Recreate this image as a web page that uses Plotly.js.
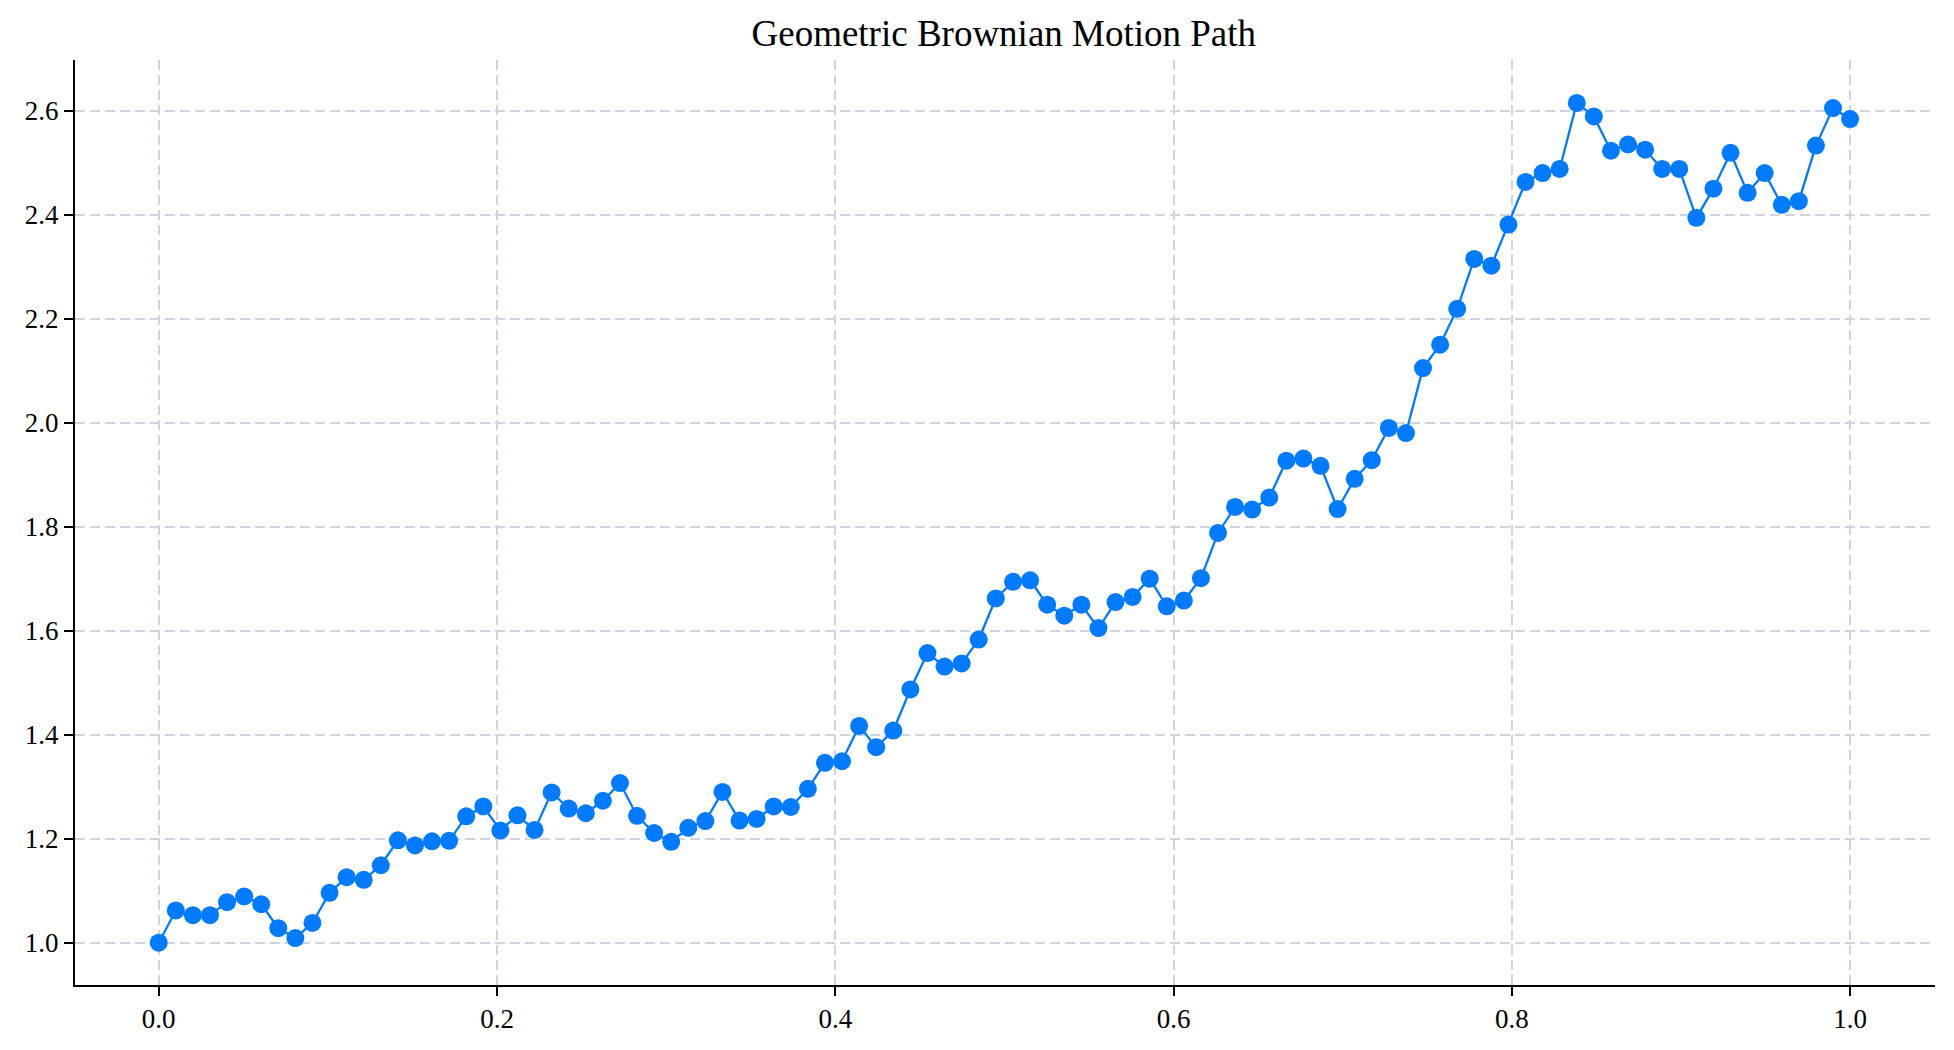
<!DOCTYPE html>
<html>
<head>
<meta charset="utf-8">
<script src="https://cdn.plot.ly/plotly-3.0.1.min.js"></script>
<style>
  html, body { margin: 0; padding: 0; background: #ffffff; }
  #chart { width: 1954px; height: 1050px; }
</style>
</head>
<body>
<div id="chart"></div>
<script>
// Time grid: 100 steps from 0 to 1 (linspace)
const timeSteps = [
  0.0000, 0.0101, 0.0202, 0.0303, 0.0404, 0.0505, 0.0606, 0.0707, 0.0808, 0.0909,
  0.1010, 0.1111, 0.1212, 0.1313, 0.1414, 0.1515, 0.1616, 0.1717, 0.1818, 0.1919,
  0.2020, 0.2121, 0.2222, 0.2323, 0.2424, 0.2525, 0.2626, 0.2727, 0.2828, 0.2929,
  0.3030, 0.3131, 0.3232, 0.3333, 0.3434, 0.3535, 0.3636, 0.3737, 0.3838, 0.3939,
  0.4040, 0.4141, 0.4242, 0.4343, 0.4444, 0.4545, 0.4646, 0.4747, 0.4848, 0.4949,
  0.5051, 0.5152, 0.5253, 0.5354, 0.5455, 0.5556, 0.5657, 0.5758, 0.5859, 0.5960,
  0.6061, 0.6162, 0.6263, 0.6364, 0.6465, 0.6566, 0.6667, 0.6768, 0.6869, 0.6970,
  0.7071, 0.7172, 0.7273, 0.7374, 0.7475, 0.7576, 0.7677, 0.7778, 0.7879, 0.7980,
  0.8081, 0.8182, 0.8283, 0.8384, 0.8485, 0.8586, 0.8687, 0.8788, 0.8889, 0.8990,
  0.9091, 0.9192, 0.9293, 0.9394, 0.9495, 0.9596, 0.9697, 0.9798, 0.9899, 1.0000
];

// Simulated GBM path values
const pathValues = [
  1.000, 1.062, 1.053, 1.053, 1.078, 1.089, 1.074, 1.028, 1.009, 1.038,
  1.096, 1.126, 1.121, 1.149, 1.197, 1.187, 1.195, 1.196, 1.243, 1.262,
  1.216, 1.245, 1.217, 1.289, 1.258, 1.249, 1.273, 1.307, 1.244, 1.211,
  1.194, 1.221, 1.234, 1.290, 1.235, 1.238, 1.262, 1.261, 1.296, 1.346,
  1.349, 1.417, 1.376, 1.408, 1.487, 1.557, 1.531, 1.537, 1.583, 1.662,
  1.694, 1.697, 1.650, 1.629, 1.650, 1.605, 1.655, 1.665, 1.700, 1.647,
  1.658, 1.701, 1.788, 1.838, 1.833, 1.856, 1.927, 1.931, 1.917, 1.834,
  1.892, 1.928, 1.990, 1.980, 2.105, 2.150, 2.219, 2.315, 2.302, 2.381,
  2.463, 2.480, 2.488, 2.615, 2.589, 2.523, 2.535, 2.525, 2.488, 2.488,
  2.394, 2.450, 2.519, 2.442, 2.480, 2.419, 2.426, 2.533, 2.605, 2.584
];

const xTickVals = [0.0, 0.2, 0.4, 0.6, 0.8, 1.0];
const xTickText = ["0.0", "0.2", "0.4", "0.6", "0.8", "1.0"];
const yTickVals = [1.0, 1.2, 1.4, 1.6, 1.8, 2.0, 2.2, 2.4, 2.6];
const yTickText = ["1.0", "1.2", "1.4", "1.6", "1.8", "2.0", "2.2", "2.4", "2.6"];

const chartTitle = "Geometric Brownian Motion Path";

const serif = "'Liberation Serif', 'DejaVu Serif', serif";
const lineColor = "#007bff";
const gridColor = "#d0d4de";

const trace = {
  x: timeSteps,
  y: pathValues,
  type: "scatter",
  mode: "lines+markers",
  line: { color: lineColor, width: 2.3 },
  marker: { color: lineColor, size: 18, line: { width: 0 } },
  hoverinfo: "x+y",
  showlegend: false
};

const commonAxis = {
  showline: true,
  linecolor: "#000000",
  linewidth: 2,
  mirror: false,
  ticks: "outside",
  ticklen: 9,
  tickwidth: 2,
  tickcolor: "#000000",
  showgrid: true,
  gridcolor: gridColor,
  gridwidth: 1.6,
  griddash: "10px,5px",
  zeroline: false,
  tickfont: { family: serif, size: 27, color: "#000000" }
};

const layout = {
  width: 1954,
  height: 1050,
  paper_bgcolor: "#ffffff",
  plot_bgcolor: "#ffffff",
  margin: { l: 75, r: 19, t: 60, b: 65, pad: 0 },
  title: {
    text: chartTitle,
    font: { family: serif, size: 37, color: "#000000" },
    x: 0.5137,
    xanchor: "center",
    xref: "container",
    y: 1 - 33 / 1050,
    yanchor: "middle",
    yref: "container"
  },
  xaxis: Object.assign({}, commonAxis, {
    range: [-0.0495, 1.0502],
    tickmode: "array",
    tickvals: xTickVals,
    ticktext: xTickText
  }),
  yaxis: Object.assign({}, commonAxis, {
    range: [0.9187, 2.6975],
    tickmode: "array",
    tickvals: yTickVals,
    ticktext: yTickText
  }),
  hovermode: "closest"
};

Plotly.newPlot("chart", [trace], layout, { displayModeBar: false, staticPlot: false });
</script>
</body>
</html>
